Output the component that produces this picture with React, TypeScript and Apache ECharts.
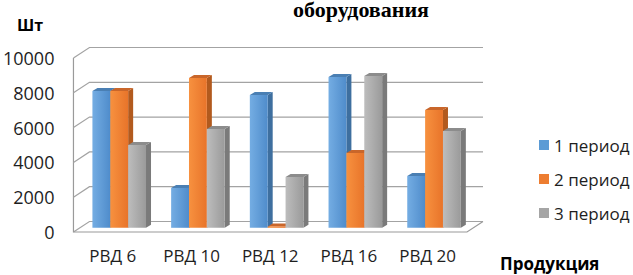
import { useEffect, useRef } from 'react';
import * as echarts from 'echarts';

const categories = ['РВД 6', 'РВД 10', 'РВД 12', 'РВД 16', 'РВД 20'];
const period1 = [7860, 2290, 7630, 8670, 2980];
const period2 = [7860, 8610, 80, 4300, 6770];
const period3 = [4760, 5680, 2920, 8720, 5560];
const seriesNames = ['1 период', '2 период', '3 период'];
const yTicks = [0, 2000, 4000, 6000, 8000, 10000];

const baseColors = ['#5b9bd5', '#ed7d31', '#a5a5a5'];
const frontStops = [
  ['#74ade3', '#4f8ccb'],
  ['#f7913f', '#e8742a'],
  ['#bdbdbd', '#9a9a9a'],
];
const sideColors = ['#3e6f9f', '#b25a1e', '#7a7a7a'];
const topColors = ['#4a7fb3', '#c9662a', '#8c8c8c'];

const WALL_DX = 16;
const WALL_DY = -10.5;
const BAR_SHIFT = 0.4; // bars sit at 40% of the depth
const BAR_DX = 5;
const BAR_DY = -3;
const FONT = '"Open Sans", "DejaVu Sans", sans-serif';
const TEXT = '#1e1e1e';

export default function App() {
  const ref = useRef<HTMLDivElement>(null);
  useEffect(() => {
    if (!ref.current) return;
    const chart = echarts.init(ref.current, undefined, { renderer: 'svg' });
    const values = [period1, period2, period3];

    const wallSeries: any = {
      type: 'custom',
      name: 'walls',
      silent: true,
      z: 1,
      data: yTicks.map((v) => [0, v]),
      encode: { x: 0, y: 1 },
      renderItem: (params: any, api: any) => {
        const v = api.value(1);
        const cs = params.coordSys;
        const x0 = cs.x;
        const x1 = cs.x + cs.width;
        const y = api.coord([0, v])[1];
        const lineStyle = { stroke: '#a3a3a3', lineWidth: 1.2, fill: null };
        const children: any[] = [
          {
            type: 'polyline',
            shape: { points: [[x0, y], [x0 + WALL_DX, y + WALL_DY], [x1 + WALL_DX, y + WALL_DY]] },
            style: lineStyle,
          },
        ];
        if (v === 0) {
          children.push({
            type: 'polyline',
            shape: { points: [[x0, cs.y], [x0, y], [x1, y], [x1 + WALL_DX, y + WALL_DY]] },
            style: { stroke: '#9a9a9a', lineWidth: 1.2, fill: null },
          });
        }
        return { type: 'group', children };
      },
    };

    const barSeries = values.map((vals, s) => ({
      type: 'custom',
      name: seriesNames[s],
      z: 3 + s,
      itemStyle: { color: baseColors[s] },
      data: vals.map((v, i) => [i, v]),
      encode: { x: 0, y: 1 },
      renderItem: (params: any, api: any) => {
        const ci = api.value(0);
        const v = api.value(1);
        const base = api.coord([ci, 0]);
        const top = api.coord([ci, v]);
        const band = api.size([1, 0])[0];
        const bw = band * 0.227;
        const sx = WALL_DX * BAR_SHIFT;
        const sy = WALL_DY * BAR_SHIFT;
        const x0 = base[0] - 1.5 * bw + sx + s * bw;
        const yTop = top[1] + sy;
        const yBase = base[1] + sy;
        return {
          type: 'group',
          children: [
            {
              type: 'polygon',
              shape: {
                points: [
                  [x0 + bw, yTop],
                  [x0 + bw + BAR_DX, yTop + BAR_DY],
                  [x0 + bw + BAR_DX, yBase + BAR_DY],
                  [x0 + bw, yBase],
                ],
              },
              style: { fill: sideColors[s] },
            },
            {
              type: 'polygon',
              shape: {
                points: [
                  [x0, yTop],
                  [x0 + BAR_DX, yTop + BAR_DY],
                  [x0 + bw + BAR_DX, yTop + BAR_DY],
                  [x0 + bw, yTop],
                ],
              },
              style: { fill: topColors[s] },
            },
            {
              type: 'rect',
              shape: { x: x0, y: yTop, width: bw, height: Math.max(yBase - yTop, 0.5) },
              style: {
                fill: new echarts.graphic.LinearGradient(0, 0, 1, 0, [
                  { offset: 0, color: frontStops[s][0] },
                  { offset: 1, color: frontStops[s][1] },
                ]),
              },
            },
          ],
        };
      },
    }));

    chart.setOption({
      animation: false,
      textStyle: { fontFamily: FONT },
      grid: { left: 69, right: 166, top: 58, bottom: 43, containLabel: false },
      xAxis: {
        type: 'category',
        data: categories,
        axisLine: { show: false },
        axisTick: { show: false },
        splitLine: { show: false },
        axisLabel: { interval: 0, margin: 15, fontSize: 17, color: TEXT, fontFamily: FONT },
      },
      yAxis: {
        type: 'value',
        min: 0,
        max: 10000,
        interval: 2000,
        axisLine: { show: false },
        axisTick: { show: false },
        splitLine: { show: false },
        axisLabel: {
          margin: 19,
          fontSize: 18,
          color: TEXT,
          fontFamily: FONT,
          formatter: (v: number) => String(v),
        },
      },
      legend: {
        orient: 'vertical',
        left: 534,
        top: 130,
        itemWidth: 10,
        itemHeight: 10,
        itemGap: 14,
        icon: 'rect',
        data: seriesNames,
        textStyle: { fontSize: 17, color: TEXT, fontFamily: FONT, lineHeight: 20 },
      },
      graphic: [
        {
          type: 'text',
          left: 293,
          top: -2,
          style: {
            text: 'оборудования',
            font: 'bold 22px "Liberation Serif", "Times New Roman", serif',
            fill: '#000',
          },
        },
        {
          type: 'text',
          x: 30,
          y: 25,
          style: {
            text: 'Шт',
            align: 'center',
            verticalAlign: 'middle',
            font: `bold 16px ${FONT}`,
            fill: '#000',
          },
        },
        {
          type: 'text',
          x: 500,
          y: 263,
          style: {
            text: 'Продукция',
            align: 'left',
            verticalAlign: 'middle',
            font: `bold 17px ${FONT}`,
            fill: '#000',
          },
        },
      ],
      series: [wallSeries, ...barSeries],
    });
    return () => chart.dispose();
  }, []);
  return (
    <div
      ref={ref}
      style={{ position: 'fixed', left: 0, top: 0, width: 633, height: 275, background: '#fff' }}
    />
  );
}
